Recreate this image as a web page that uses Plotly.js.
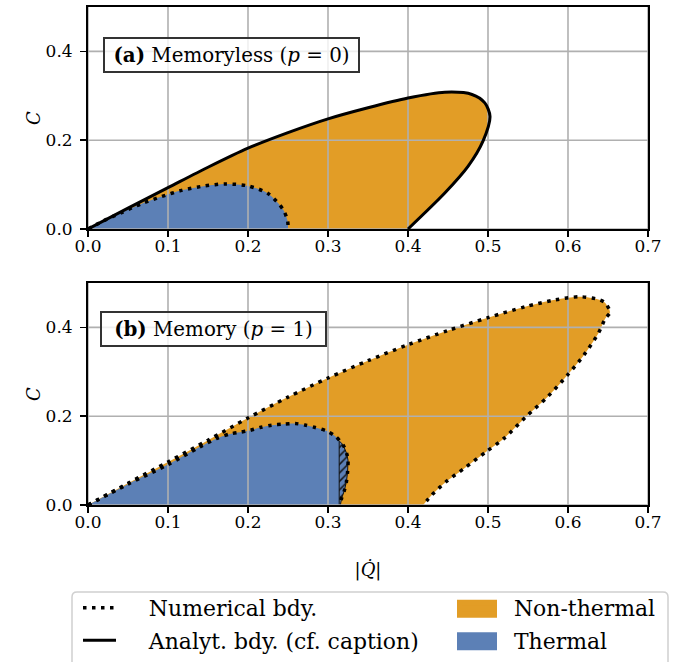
<!DOCTYPE html>
<html><head><meta charset="utf-8">
<script src="https://cdn.plot.ly/plotly-3.0.1.min.js"></script>
<style>html,body{margin:0;padding:0;background:#fff}</style>
</head><body><div id="chart" style="width:692px;height:662px"></div>
<script>
// ---- ticks / axes ----
const xTicks = [0, 0.1, 0.2, 0.3, 0.4, 0.5, 0.6, 0.7];
const xTickText = ['0.0', '0.1', '0.2', '0.3', '0.4', '0.5', '0.6', '0.7'];
const yTicks = [0, 0.2, 0.4];
const yTickText = ['0.0', '0.2', '0.4'];
const xRange = [0, 0.7];
const yRange = [0, 0.5];

// ---- panel (a): memoryless, p = 0 ----
const topOuterQ = [0, 0.05, 0.1, 0.15, 0.2, 0.25, 0.3, 0.35, 0.4, 0.446, 0.48, 0.496, 0.5025, 0.494, 0.475, 0.446, 0.4];
const topOuterC = [0, 0.047, 0.093, 0.139, 0.182, 0.217, 0.248, 0.273, 0.295, 0.308, 0.303, 0.284, 0.254, 0.199, 0.141, 0.081, 0];
const topThermQ = [0, 0.02, 0.042, 0.067, 0.092, 0.117, 0.146, 0.172, 0.2, 0.225, 0.244, 0.2496, 0.25];
const topThermC = [0, 0.019, 0.037, 0.057, 0.073, 0.087, 0.097, 0.1015, 0.097, 0.08, 0.0435, 0.017, 0];

// ---- panel (b): memory, p = 1 ----
const botOuterQ = [0, 0.05, 0.1, 0.15, 0.2, 0.25, 0.3, 0.35, 0.4, 0.45, 0.5, 0.5475, 0.584, 0.615, 0.638, 0.646, 0.6525, 0.647, 0.638, 0.62, 0.5995, 0.5747, 0.5475, 0.52, 0.4977, 0.4706, 0.448, 0.43, 0.419];
const botOuterC = [0, 0.049, 0.097, 0.146, 0.196, 0.243, 0.286, 0.325, 0.361, 0.393, 0.422, 0.447, 0.462, 0.469, 0.463, 0.456, 0.434, 0.421, 0.387, 0.338, 0.293, 0.244, 0.199, 0.15, 0.12, 0.083, 0.053, 0.023, 0];
const botThermQ = [0, 0.05, 0.1, 0.14, 0.161, 0.1775, 0.19, 0.2025, 0.215, 0.2296, 0.244, 0.259, 0.271, 0.284, 0.298, 0.309, 0.319, 0.3235, 0.325, 0.3245, 0.323, 0.32, 0.317, 0.3155];
const botThermC = [0, 0.047, 0.091, 0.131, 0.15, 0.16, 0.164, 0.168, 0.1745, 0.1798, 0.182, 0.1835, 0.18, 0.1745, 0.167, 0.155, 0.135, 0.115, 0.101, 0.075, 0.052, 0.03, 0.015, 0];
const hatchQ = [0.314, 0.314, 0.316, 0.319, 0.3235, 0.325, 0.3245, 0.323, 0.32, 0.317, 0.3155];
const hatchC = [0, 0.143, 0.141, 0.135, 0.115, 0.101, 0.075, 0.052, 0.03, 0.015, 0];

const labels = ['Numerical bdy.', 'Analyt. bdy. (cf. caption)', 'Non-thermal', 'Thermal'];
const panelText = ['<b>(a)</b> Memoryless (<i>p</i> = 0)', '<b>(b)</b> Memory (<i>p</i> = 1)'];

const ORANGE = '#e29d26';
const BLUE = '#5c80b6';
const GRID = '#b0b0b0';
const FONT = 'DejaVu Serif';

// ---- fit font sizes to the reference text widths ----
const ctx = document.createElement('canvas').getContext('2d');
function textW(str, size, weight) {
  ctx.font = `${weight || 'normal'} ${size}px "${FONT}", serif`;
  return ctx.measureText(str).width;
}
const clamp = (v, a, b) => Math.max(a, Math.min(b, v));
const fit = (str, target, lo, hi) => clamp(100 * target / textW(str, 100), lo, hi);
const TICK_SIZE = fit('0.0', 27, 14, 21);
const LEG_SIZE = fit(labels[1], 270, 14, 22);
const ANN_SIZE = fit('(a) Memoryless (p = 0)', 232, 14, 22);
const TITLE_SIZE = TICK_SIZE + 1;
function pad(targetPx, size) {
  const n = Math.max(0, Math.round(targetPx / textW('\u00a0', size)));
  return '\u00a0'.repeat(n);
}

const dotted = {color: 'black', width: 3.5, dash: '3.5px,5.5px', shape: 'spline', smoothing: 0.8};

function gridTrace(xa, ya) {
  const gx = [], gy = [];
  xTicks.forEach(t => { gx.push(t, t, null); gy.push(yRange[0], yRange[1], null); });
  yTicks.forEach(t => { gx.push(xRange[0], xRange[1], null); gy.push(t, t, null); });
  return {x: gx, y: gy, xaxis: xa, yaxis: ya, mode: 'lines', line: {color: GRID, width: 1.6},
          hoverinfo: 'skip', showlegend: false};
}

const lPad = pad(26, LEG_SIZE), rPad = pad(12, LEG_SIZE);
const traces = [
  {x: topOuterQ, y: topOuterC, xaxis: 'x', yaxis: 'y', mode: 'lines', fill: 'toself', fillcolor: ORANGE,
   line: {width: 0, shape: 'spline', smoothing: 0.8}, name: rPad + labels[2], legend: 'legend2', legendgroup: 'c',
   legendrank: 1, showlegend: true},
  {x: topThermQ, y: topThermC, xaxis: 'x', yaxis: 'y', mode: 'lines', fill: 'toself', fillcolor: BLUE,
   line: {width: 0, shape: 'spline', smoothing: 0.8}, name: rPad + labels[3], legend: 'legend2', legendgroup: 'd',
   legendrank: 2, showlegend: true},
  {x: botOuterQ, y: botOuterC, xaxis: 'x2', yaxis: 'y2', mode: 'lines', fill: 'toself', fillcolor: ORANGE,
   line: {width: 0, shape: 'spline', smoothing: 0.8}, showlegend: false},
  {x: botThermQ, y: botThermC, xaxis: 'x2', yaxis: 'y2', mode: 'lines', fill: 'toself', fillcolor: BLUE,
   line: {width: 0, shape: 'spline', smoothing: 0.8}, showlegend: false},
  {x: hatchQ, y: hatchC, xaxis: 'x2', yaxis: 'y2', mode: 'lines', fill: 'toself', fillcolor: BLUE,
   fillpattern: {shape: '/', bgcolor: BLUE, fgcolor: '#111111', size: 6, solidity: 0.25},
   line: {width: 1, color: '#111111'}, showlegend: false},
  gridTrace('x', 'y'),
  gridTrace('x2', 'y2'),
  {x: topOuterQ, y: topOuterC, xaxis: 'x', yaxis: 'y', mode: 'lines',
   line: {color: 'black', width: 3, shape: 'spline', smoothing: 0.8}, name: lPad + labels[1], legend: 'legend',
   legendgroup: 'b', legendrank: 2, showlegend: true},
  {x: topThermQ, y: topThermC, xaxis: 'x', yaxis: 'y', mode: 'lines', line: dotted, name: lPad + labels[0],
   legend: 'legend', legendgroup: 'a', legendrank: 1, showlegend: true},
  {x: botOuterQ, y: botOuterC, xaxis: 'x2', yaxis: 'y2', mode: 'lines', line: dotted, showlegend: false},
  {x: botThermQ, y: botThermC, xaxis: 'x2', yaxis: 'y2', mode: 'lines', line: dotted, showlegend: false}
];

const W = 692, H = 662;
const px = v => v / W, py = v => 1 - v / H;
function axisX(dom) {
  return {domain: dom, range: xRange, tickvals: xTicks, ticktext: xTickText, showgrid: false, zeroline: false,
          showline: true, mirror: true, linecolor: 'black', linewidth: 2, ticks: 'outside', ticklen: 6,
          tickwidth: 1.5, tickcolor: 'black', ticklabelstandoff: -5, automargin: false,
          tickfont: {family: FONT, size: TICK_SIZE, color: 'black'}, fixedrange: true};
}
function axisY(dom) {
  return {domain: dom, range: yRange, tickvals: yTicks, ticktext: yTickText, showgrid: false, zeroline: false,
          showline: true, mirror: true, linecolor: 'black', linewidth: 2, ticks: 'outside', ticklen: 6,
          tickwidth: 1.5, tickcolor: 'black', ticklabelstandoff: 4, automargin: false,
          tickfont: {family: FONT, size: TICK_SIZE, color: 'black'},
          title: {text: '<i>C</i>', font: {family: FONT, size: TITLE_SIZE, color: 'black'}, standoff: 0}, fixedrange: true};
}

const L = px(72), R = px(668), T = py(592), B = py(670), rx = px(5), ry = 5 / H;
const framePath = `M ${L + rx},${T} L ${R - rx},${T} Q ${R},${T} ${R},${T - ry} L ${R},${B} L ${L},${B} L ${L},${T - ry} Q ${L},${T} ${L + rx},${T} Z`;

const legFont = {family: FONT, size: LEG_SIZE, color: 'black'};
const layout = {
  width: W, height: H,
  margin: {l: 0, r: 0, t: 0, b: 0, autoexpand: false},
  paper_bgcolor: 'white', plot_bgcolor: 'white',
  font: {family: FONT, size: LEG_SIZE, color: 'black'},
  xaxis: Object.assign(axisX([px(88), px(648)]), {anchor: 'y'}),
  yaxis: Object.assign(axisY([1 - 229 / H, 1 - 7 / H]), {anchor: 'x'}),
  xaxis2: Object.assign(axisX([px(88), px(648)]), {anchor: 'y2',
    title: {text: '|<i>Q̇</i>|', font: {family: FONT, size: TITLE_SIZE, color: 'black'}, standoff: 32}}),
  yaxis2: Object.assign(axisY([1 - 505 / H, 1 - 283 / H]), {anchor: 'x2'}),
  showlegend: true,
  legend: {x: px(78), y: py(587), xanchor: 'left', yanchor: 'top', bgcolor: 'rgba(0,0,0,0)', borderwidth: 0,
           font: legFont, itemwidth: 33, tracegroupgap: 1, orientation: 'v'},
  legend2: {x: px(457), y: py(587), xanchor: 'left', yanchor: 'top', bgcolor: 'rgba(0,0,0,0)', borderwidth: 0,
           font: legFont, itemwidth: 33, tracegroupgap: 1, orientation: 'v'},
  shapes: [
    {type: 'path', xref: 'paper', yref: 'paper', path: framePath, line: {color: '#d0d0d0', width: 1.5},
     fillcolor: 'rgba(0,0,0,0)', layer: 'below'}
  ],
  annotations: [
    {text: panelText[0], xref: 'x domain', yref: 'y domain', x: (231 - 88) / 560, y: (229 - 55) / 222,
     xanchor: 'center', yanchor: 'middle',
     showarrow: false, font: {family: FONT, size: ANN_SIZE, color: 'black'}, bgcolor: 'rgba(255,255,255,0.8)',
     bordercolor: '#333333', borderwidth: 2, borderpad: 5, width: 243, height: 22},
    {text: panelText[1], xref: 'x2 domain', yref: 'y2 domain', x: (213.5 - 88) / 560, y: (505 - 329.5) / 222,
     xanchor: 'center', yanchor: 'middle',
     showarrow: false, font: {family: FONT, size: ANN_SIZE, color: 'black'}, bgcolor: 'rgba(255,255,255,0.8)',
     bordercolor: '#333333', borderwidth: 2, borderpad: 5, width: 213, height: 22}
  ]
};

Plotly.newPlot('chart', traces, layout, {displayModeBar: false, staticPlot: true}).then(gd => {
  // enlarge the filled legend patches to the reference's patch size, centred on each legend row
  const extra = [];
  const host = gd.getBoundingClientRect();
  gd.querySelectorAll('g.legend2 .traces').forEach((g, i) => {
    const fill = g.querySelector('.js-fill');
    if (!fill) return;
    const b = fill.getBoundingClientRect();
    const cy = b.top + b.height / 2 - host.top;
    extra.push({type: 'rect', xref: 'paper', yref: 'paper', x0: px(457), x1: px(497),
                y0: py(cy - 9), y1: py(cy + 9), fillcolor: i === 0 ? ORANGE : BLUE, line: {width: 0}, layer: 'above'});
  });
  if (extra.length) Plotly.relayout(gd, {shapes: layout.shapes.concat(extra)});
});
</script></body></html>
